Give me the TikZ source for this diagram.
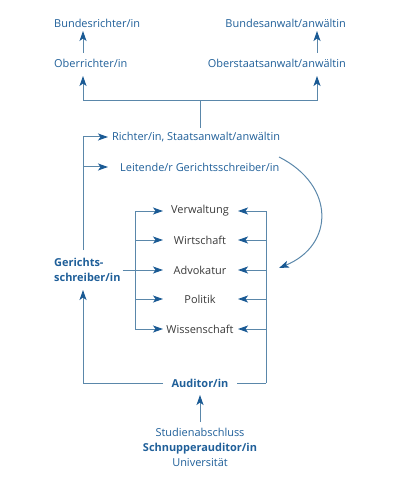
\documentclass[tikz,border=0pt]{standalone}
\usepackage{fontspec}
\setmainfont{Open Sans}
\usetikzlibrary{arrows.meta,calc}
\definecolor{tblue}{HTML}{1F5F99}
\definecolor{lblue}{HTML}{5A87AA}
\definecolor{ablue}{HTML}{1A5A94}
\definecolor{tgrey}{HTML}{3A3A3A}
\tikzset{
  lbl/.style={font=\fontsize{11}{15}\selectfont, text=tblue, inner sep=0pt},
  blbl/.style={lbl, font=\fontsize{11}{15}\selectfont\bfseries},
  glbl/.style={lbl, text=tgrey},
  ln/.style={draw=lblue, line width=1bp},
  arr/.style={ln, -{Stealth[length=10bp,width=7bp,inset=2.5bp,color=ablue]}}
}
\begin{document}
\begin{tikzpicture}[x=1bp,y=-1bp]
\useasboundingbox (0,0) rectangle (400,480);
% top
\node[lbl, anchor=west] (bri) at (54,23) {Bundesrichter/in};
\node[lbl, anchor=east] (ban) at (346,23) {Bundesanwalt/anwältin};
\node[lbl, anchor=west] (ori) at (54,63) {Oberrichter/in};
\node[lbl, anchor=east] (ost) at (346,63) {Oberstaatsanwalt/anwältin};
\node[lbl, anchor=west] (ric) at (112,137) {Richter/in, Staatsanwalt/anwältin};
\node[lbl, anchor=west] (lei) at (120,167) {Leitende/r Gerichtsschreiber/in};
\node[blbl, anchor=west, align=left] (ger) at (54,270) {Gerichts-\\schreiber/in};
% inner list
\node[glbl] (v1) at (200,211) {Verwaltung};
\node[glbl] (v2) at (200,240) {Wirtschaft};
\node[glbl] (v3) at (200,270) {Advokatur};
\node[glbl] (v4) at (200,299) {Politik};
\node[glbl] (v5) at (200,329) {Wissenschaft};
\node[blbl] (aud) at (200,383) {Auditor/in};
\node[lbl, align=center] (uni) at (200,447) {Studienabschluss\\\textbf{Schnupperauditor/in}\\Universität};
% coordinates
\coordinate (lx) at (83,0);
\coordinate (rx) at (317,0);
\coordinate (ix) at (135,0);
\coordinate (ox) at (266,0);
\coordinate (j) at (200,101);
\coordinate (ilt) at (163,0);
\coordinate (irt) at (238,0);
\coordinate (cs) at (279,157);
\coordinate (ce) at (279,268);
% top arrows
\draw[arr] (lx |- 0,53) -- (lx |- 0,31);
\draw[arr] (rx |- 0,53) -- (rx |- 0,31);
\draw[ln] (j) -- (200,128);
\draw[arr] (j) -| (lx |- 0,76);
\draw[arr] (j) -| (rx |- 0,76);
% left loop to Richter / Leitende
\draw[arr] (lx |- 0,250) |- (108,137);
\draw[arr] (lx |- lei) -- (108,167);
% curve
\draw[arr] (cs) .. controls (335,185) and (335,245) .. (ce);
% inner arrows
\draw[ln] (ix |- v1) -- (ix |- v5);
\foreach \n in {v1,v2,v4,v5}{
  \draw[arr] (ix |- \n) -- (ilt |- \n);
}
\draw[arr] (ger.east |- v3) ++(2,0) -- (ilt |- v3);
\draw[ln] (ox |- v1) -- (ox |- aud);
\foreach \n in {v1,v2,v3,v4,v5}{
  \draw[arr] (ox |- \n) -- (irt |- \n);
}
% bottom loop
\draw[ln] (ox |- aud) -- (237,383);
\draw[arr] (163,383) -| (lx |- 0,290);
\draw[arr] (200,422) -- (200,395);
\end{tikzpicture}
\end{document}
